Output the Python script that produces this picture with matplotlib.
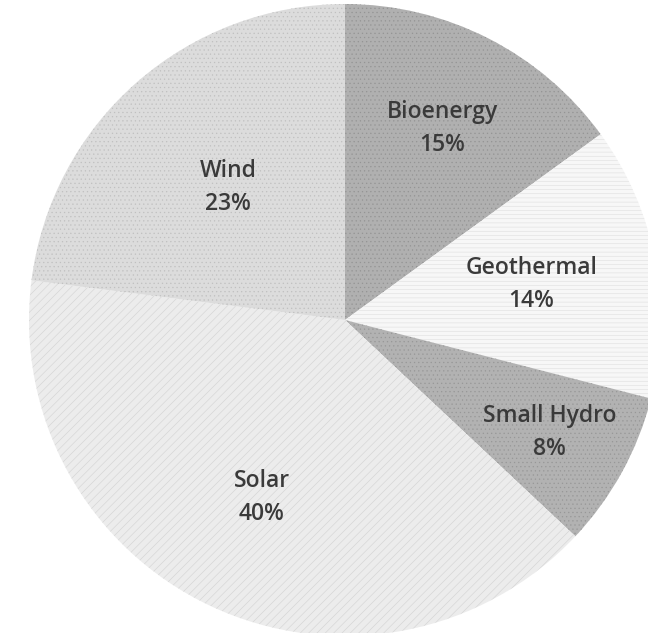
#!/usr/bin/env python3

import numpy as np
import matplotlib
matplotlib.use("Agg")
import matplotlib.pyplot as plt

labels = ["Bioenergy", "Geothermal", "Small Hydro", "Solar", "Wind"]
shares = [15, 14, 8, 40, 23]

face = ["#b0b0b0", "#f7f7f7", "#b2b2b2", "#ececec", "#dcdcdc"]
hatch_col = ["#949494", "#dedede", "#979797", "#d2d2d2", "#c0c0c0"]
hatches = ["....", "----", "....", "////", "...."]
label_r = [0.68, 0.60, 0.74, 0.62, 0.56]

plt.rcParams["font.family"] = ["Open Sans", "DejaVu Sans"]
plt.rcParams["hatch.linewidth"] = 0.4

W, H = 648, 633
fig = plt.figure(figsize=(W / 100, H / 100), dpi=100)
ax = fig.add_axes([0, 0, 1, 1])

cx, cy, R = 345, H - 320, 316
wedges, _ = ax.pie(shares, startangle=90, counterclock=False,
                   center=(cx, cy), radius=R, colors=face,
                   wedgeprops=dict(linewidth=0))

for w, hc, ht in zip(wedges, hatch_col, hatches):
    w.set_edgecolor(hc)
    w.set_hatch(ht)

for w, lab, s, lr in zip(wedges, labels, shares, label_r):
    mid = np.deg2rad((w.theta1 + w.theta2) / 2)
    x = cx + R * lr * np.cos(mid)
    y = cy + R * lr * np.sin(mid)
    ax.text(x, y, f"{lab}\n{s}%", ha="center", va="center",
            fontsize=16.5, fontweight="semibold", color="#3a3a3a",
            linespacing=1.5)

ax.set_xlim(0, W)
ax.set_ylim(0, H)
ax.set_aspect("equal")
ax.axis("off")

fig.savefig("out.png", dpi=100, facecolor="white")
